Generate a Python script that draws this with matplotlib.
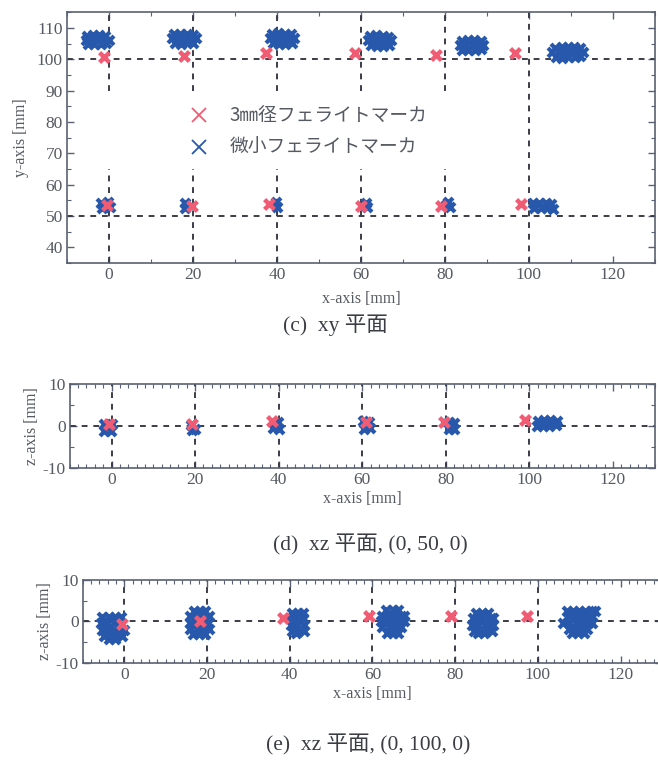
import matplotlib
matplotlib.use("Agg")
import matplotlib.pyplot as plt
from matplotlib.lines import Line2D
from matplotlib.ticker import MultipleLocator


# ---------------------------------------------------------------- data ----#
# (c) xy plane : small ferrite markers (blue) and 3mm markers (red)
xy_blue = [
    # around (0, 100)
    (-5.3, 107.4), (-3.8, 107.7), (-2.3, 107.6), (-0.9, 107.3),
    (-5.6, 106.2), (-4.1, 106.3), (-2.6, 106.1), (-1.1, 106.2), (0.0, 106.0),
    (-5.0, 105.0), (-3.5, 104.8), (-2.0, 104.9), (-0.7, 105.1),
    # around (20, 100)
    (15.5, 107.9), (17.0, 108.1), (18.5, 108.0), (20.0, 107.8),
    (15.0, 106.6), (16.5, 106.5), (18.0, 106.6), (19.5, 106.4), (20.8, 106.6),
    (15.6, 105.2), (17.1, 105.0), (18.6, 105.1), (20.1, 105.3),
    # around (40, 100)
    (38.8, 108.0), (40.3, 108.2), (41.8, 108.1), (43.3, 107.9),
    (38.4, 106.6), (39.9, 106.5), (41.4, 106.6), (42.9, 106.4), (44.0, 106.7),
    (39.0, 105.1), (40.5, 104.9), (42.0, 105.0), (43.5, 105.2),
    # around (60, 100)
    (62.2, 107.3), (63.7, 107.6), (65.2, 107.5), (66.5, 107.2),
    (61.7, 106.0), (63.2, 105.9), (64.7, 106.0), (66.2, 105.8), (67.2, 106.0),
    (62.3, 104.5), (63.8, 104.2), (65.3, 104.3), (66.6, 104.6),
    # around (80, 100)
    (84.0, 105.9), (85.5, 106.1), (87.0, 106.0), (88.5, 105.8),
    (83.6, 104.5), (85.1, 104.4), (86.6, 104.5), (88.1, 104.3), (89.0, 104.6),
    (84.1, 103.0), (85.6, 102.8), (87.1, 102.9), (88.6, 103.1),
    # around (100, 100)
    (106.3, 103.7), (107.8, 103.9), (109.3, 104.0), (110.8, 103.8), (112.2, 103.6),
    (105.6, 102.3), (107.1, 102.2), (108.6, 102.3), (110.1, 102.1), (111.6, 102.2),
    (112.8, 102.4),
    (106.4, 100.8), (107.9, 100.5), (109.4, 100.6), (110.9, 100.7), (112.1, 101.0),
    # row y = 50
    (-2.0, 54.2), (-1.8, 52.6), (-0.3, 54.3), (0.1, 52.7),
    (18.0, 54.0), (18.2, 52.6),
    (39.8, 54.6), (40.0, 53.0),
    (61.3, 54.2), (61.5, 52.8),
    (80.8, 54.3), (81.2, 52.9), (80.3, 53.6),
    (101.0, 54.0), (102.5, 54.1), (104.0, 54.0), (105.3, 53.8),
    (101.3, 52.6), (102.8, 52.5), (104.3, 52.4), (105.7, 52.3),
]
xy_red = [
    (-1.2, 100.7), (17.8, 101.0), (37.5, 101.9), (58.7, 101.9), (78.0, 101.3), (96.7, 101.9),
    (-0.5, 53.4), (19.7, 53.2), (38.0, 53.8), (60.1, 53.2), (79.0, 53.2), (98.1, 53.8),
]

# (d) xz plane, (0, 50, 0)
xz50_blue = [
    (-1.8, 0.5), (-1.7, -1.2), (-0.2, -1.3), (0.0, 0.4),
    (19.0, 0.3), (19.3, -1.0), (20.0, -0.6),
    (39.8, 0.9), (40.0, -0.6), (38.6, -0.5),
    (60.3, 1.2), (61.7, 1.0), (60.4, -0.6), (61.8, -0.5),
    (80.8, 0.9), (81.9, 0.6), (80.7, -0.6), (81.9, -0.8),
    (102.0, 1.2), (103.5, 1.4), (105.0, 1.3), (106.5, 1.1),
    (101.8, 0.0), (103.3, -0.1), (104.8, 0.0), (106.3, 0.2),
]
xz50_red = [(-0.5, 0.5), (19.3, 0.5), (38.4, 1.2), (60.9, 1.0), (79.5, 1.0), (99.0, 1.5)]

# (e) xz plane, (0, 100, 0)
xz100_blue = [
    (-5.3, 1.0), (-3.8, 1.0), (-2.3, 1.0), (-0.8, 1.0),
    (-5.6, -0.5), (-4.1, -0.5), (-2.6, -0.5), (-1.1, -0.5),
    (-5.5, -2.0), (-4.0, -2.0), (-2.5, -2.0), (-1.0, -2.0), (0.0, -2.0),
    (-5.0, -3.5), (-3.5, -3.5), (-2.0, -3.5), (-0.6, -3.5),
    (-3.8, -4.2), (-2.2, -4.2),

    (16.8, 2.6), (18.3, 2.6), (19.6, 2.6),
    (15.9, 1.2), (17.4, 1.2), (18.9, 1.2), (20.4, 1.2),
    (15.8, -0.3), (17.3, -0.3), (18.8, -0.3), (20.3, -0.3),
    (16.0, -1.8), (17.5, -1.8), (19.0, -1.8), (20.5, -1.8),
    (16.6, -3.1), (18.1, -3.1), (19.6, -3.1),

    (40.5, 2.1), (42.0, 2.1), (43.2, 2.1),
    (40.1, 0.7), (41.6, 0.7), (43.1, 0.7),
    (40.3, -0.8), (41.8, -0.8), (43.4, -0.8),
    (40.6, -2.3), (42.1, -2.3), (43.5, -2.3),
    (41.6, -2.9),

    (63.4, 2.8), (64.9, 2.8), (66.3, 2.8),
    (62.3, 1.4), (63.8, 1.4), (65.3, 1.4), (66.8, 1.4), (67.6, 1.4),
    (62.1, 0.0), (63.6, 0.0), (65.1, 0.0), (66.6, 0.0), (67.6, 0.0),
    (62.4, -1.4), (63.9, -1.4), (65.4, -1.4), (66.9, -1.4),
    (63.5, -2.8), (65.0, -2.8), (66.3, -2.8),

    (85.0, 2.1), (86.5, 2.1), (88.0, 2.1),
    (84.2, 0.7), (85.7, 0.7), (87.2, 0.7), (88.7, 0.7), (89.2, 0.7),
    (84.1, -0.8), (85.6, -0.8), (87.1, -0.8), (88.6, -0.8), (89.2, -0.8),
    (84.5, -2.3), (86.0, -2.3), (87.5, -2.3), (88.9, -2.3),
    (85.5, -2.9), (87.0, -2.9),

    (107.0, 2.6), (108.5, 2.6), (110.0, 2.6), (111.5, 2.6), (113.0, 2.6), (113.8, 2.6),
    (107.2, 1.2), (108.7, 1.2), (110.2, 1.2), (111.7, 1.2), (113.0, 1.2),
    (106.1, -0.3), (107.6, -0.3), (109.1, -0.3), (110.6, -0.3), (112.1, -0.3), (113.2, -0.3),
    (107.5, -1.8), (109.0, -1.8), (110.5, -1.8), (112.0, -1.8),
    (108.3, -2.9), (109.8, -2.9), (111.2, -2.9),
]
xz100_red = [(-0.5, -0.7), (18.4, 0.0), (38.3, 0.7), (59.2, 1.2), (79.0, 1.2), (97.3, 1.4)]

grid_x = [0, 20, 40, 60, 80, 100]
legend_labels = ["3\u339c径フェライトマーカ", "微小フェライトマーカ"]
captions = ["(c)  xy 平面", "(d)  xz 平面, (0, 50, 0)", "(e)  xz 平面, (0, 100, 0)"]

# --------------------------------------------------------------- style ----#
SERIF = ["Liberation Serif", "Noto Sans CJK JP", "DejaVu Sans"]
plt.rcParams["font.family"] = SERIF
plt.rcParams["axes.unicode_minus"] = False
BLUE = "#2758ab"
RED = "#f05c74"
DASH = "#3a3d48"
SPINE = "#5a6172"
TXT = "#555a62"


def style_axes(ax, xminor, ymajor, yminor, xpad=2):
    ax.set_xlim(-10, 130)
    ax.xaxis.set_major_locator(MultipleLocator(20))
    ax.xaxis.set_minor_locator(MultipleLocator(xminor))
    ax.yaxis.set_major_locator(MultipleLocator(ymajor))
    ax.yaxis.set_minor_locator(MultipleLocator(yminor))
    ax.tick_params(which="both", direction="in", top=True, right=True,
                   colors=SPINE, labelcolor=TXT, labelsize=12.5)
    ax.tick_params(which="major", length=5, width=1, pad=3)
    ax.tick_params(which="minor", length=3, width=0.8)
    for s in ax.spines.values():
        s.set_color(SPINE)
        s.set_linewidth(1.2)
    ax.set_xlabel("x-axis [mm]", color=TXT, fontsize=11.5, labelpad=xpad)


def draw_points(ax, blue, red):
    bx, by = zip(*blue)
    rx, ry = zip(*red)
    ax.scatter(bx, by, marker="x", s=42, linewidths=3.0, color=BLUE, zorder=3)
    ax.scatter(rx, ry, marker="x", s=50, linewidths=3.2, color=RED, zorder=4)


dash_kw = dict(color=DASH, linewidth=1.4, linestyle=(0, (3.0, 3.0)), zorder=2)

fig = plt.figure(figsize=(6.58, 7.6), dpi=100)
fig.patch.set_facecolor("white")

# ----------------------------------------------------------- (c) xy -----#
ax1 = fig.add_axes([0.102, 0.654, 0.893, 0.330])
for gx in grid_x:
    if gx == 100:
        ax1.axvline(gx, **dash_kw)
    else:
        ax1.plot([gx, gx], [90, 115], **dash_kw)
        ax1.plot([gx, gx], [35, 65], **dash_kw)
ax1.axhline(100, **dash_kw)
ax1.axhline(50, **dash_kw)
draw_points(ax1, xy_blue, xy_red)
ax1.set_ylim(35, 115)
style_axes(ax1, 10, 10, 5, xpad=6)
ax1.set_ylabel("y-axis [mm]", color=TXT, fontsize=11.5, labelpad=6)

handles = [
    Line2D([], [], marker="x", linestyle="none", color=RED, markersize=10, markeredgewidth=1.3),
    Line2D([], [], marker="x", linestyle="none", color=BLUE, markersize=10, markeredgewidth=1.3),
]
ax1.legend(handles, legend_labels, loc="upper left", bbox_to_anchor=(0.26, 0.873),
           bbox_transform=fig.transFigure, frameon=False,
           labelcolor=TXT, handletextpad=0.6, labelspacing=0.55, borderpad=0,
           prop={"family": ["Noto Sans CJK JP", "DejaVu Sans"], "size": 13.5})

# ----------------------------------------------------- (d) xz, y=50 -----#
ax2 = fig.add_axes([0.106, 0.384, 0.889, 0.111])
for gx in grid_x:
    ax2.axvline(gx, **dash_kw)
ax2.axhline(0, **dash_kw)
draw_points(ax2, xz50_blue, xz50_red)
ax2.set_ylim(-10, 10)
style_axes(ax2, 2, 10, 5)
ax2.set_ylabel("z-axis [mm]", color=TXT, fontsize=11.5, labelpad=2)

# ---------------------------------------------------- (e) xz, y=100 -----#
ax3 = fig.add_axes([0.126, 0.128, 0.880, 0.109])
for gx in grid_x:
    ax3.axvline(gx, **dash_kw)
ax3.axhline(0, **dash_kw)
draw_points(ax3, xz100_blue, xz100_red)
ax3.set_ylim(-10, 10)
style_axes(ax3, 2, 10, 5)
ax3.set_ylabel("z-axis [mm]", color=TXT, fontsize=11.5, labelpad=2)

# ------------------------------------------------------------ captions ---#
for cx, cy, txt in [(0.51, 0.572, captions[0]), (0.563, 0.283, captions[1]),
                    (0.56, 0.020, captions[2])]:
    fig.text(cx, cy, txt, ha="center", va="center", fontsize=15.5, color="#3a3d44",
             family=SERIF)

fig.savefig("out.png", dpi=100, facecolor="white")
